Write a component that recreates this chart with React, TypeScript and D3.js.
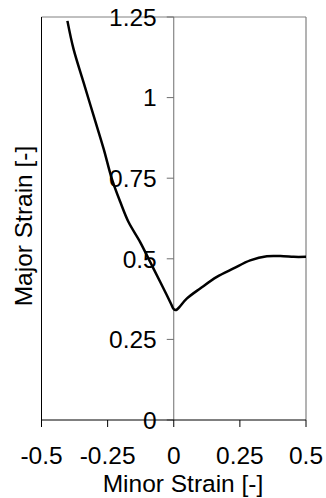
import React from "react";
import * as d3 from "d3";

// Forming limit curve: minor strain vs major strain
const minorStrain = [
  -0.402, -0.379, -0.341, -0.303, -0.265, -0.234, -0.202, -0.171, -0.127, -0.089,
  -0.051, -0.026, -0.01, -0.002, 0.006, 0.013, 0.022, 0.05, 0.1, 0.163, 0.226, 0.289, 0.352, 0.415, 0.453, 0.5,
];
const majorStrain = [
  1.238, 1.151, 1.047, 0.944, 0.841, 0.748, 0.676, 0.614, 0.552, 0.49,
  0.428, 0.387, 0.36, 0.346, 0.341, 0.343, 0.351, 0.377, 0.408, 0.444, 0.47, 0.495, 0.508, 0.508, 0.506, 0.506,
];

const xTicks = [-0.5, -0.25, 0, 0.25, 0.5];
const yTicks = [0, 0.25, 0.5, 0.75, 1, 1.25];

const W = 326;
const H = 498;
const FONT = "'Liberation Sans', Arial, sans-serif";
const FS = 24.5;

export default function App() {
  const left = 41.5;
  const right = 306;
  const top = 17;
  const bottom = 420;

  const x = d3.scaleLinear().domain([-0.5, 0.5]).range([left, right]);
  const y = d3.scaleLinear().domain([0, 1.25]).range([bottom, top]);

  const pts: [number, number][] = minorStrain.map((v, i) => [v, majorStrain[i]]);
  const line = d3
    .line<[number, number]>()
    .x((d) => x(d[0]))
    .y((d) => y(d[1]))
    .curve(d3.curveCatmullRom.alpha(0.5));

  const fmt = (v: number) => String(v);
  const x0 = x(0);

  return (
    <svg
      width={W}
      height={H}
      style={{ position: "absolute", left: 0, top: 0, background: "#fff" }}
      fontFamily={FONT}
    >
      {/* plot frame */}
      <line x1={left} x2={right} y1={top} y2={top} stroke="#808080" strokeWidth={1} />
      <line x1={right} x2={right} y1={top} y2={bottom} stroke="#808080" strokeWidth={1.2} />
      <line x1={left} x2={left} y1={top} y2={bottom} stroke="#000" strokeWidth={1} />

      {/* y axis placed at minor strain = 0 */}
      <line x1={x0} x2={x0} y1={top} y2={bottom} stroke="#6e6e6e" strokeWidth={1} />
      {yTicks.map((t) => (
        <g key={"y" + t}>
          <line x1={x0 - 7} x2={x0} y1={y(t)} y2={y(t)} stroke="#6e6e6e" strokeWidth={1} />
          <text
            x={x0 - 17}
            y={y(t)}
            dy="0.36em"
            textAnchor="end"
            fontSize={FS}
            fill="#000"
          >
            {fmt(t)}
          </text>
        </g>
      ))}

      {/* x axis */}
      <line x1={left} x2={right} y1={bottom} y2={bottom} stroke="#000" strokeWidth={1} />
      {xTicks.map((t) => (
        <g key={"x" + t}>
          <line x1={x(t)} x2={x(t)} y1={bottom} y2={bottom + 7} stroke="#000" strokeWidth={1} />
          <text x={x(t)} y={464} textAnchor="middle" fontSize={FS} fill="#000">
            {fmt(t)}
          </text>
        </g>
      ))}

      {/* curve */}
      <path d={line(pts) ?? ""} fill="none" stroke="#000" strokeWidth={2.5} strokeLinejoin="round" />

      {/* axis titles */}
      <text x={183} y={492} textAnchor="middle" fontSize={FS} fill="#000">
        Minor Strain [-]
      </text>
      <text
        transform="translate(32,226) rotate(-90)"
        textAnchor="middle"
        fontSize={FS}
        fill="#000"
      >
        Major Strain [-]
      </text>
    </svg>
  );
}
